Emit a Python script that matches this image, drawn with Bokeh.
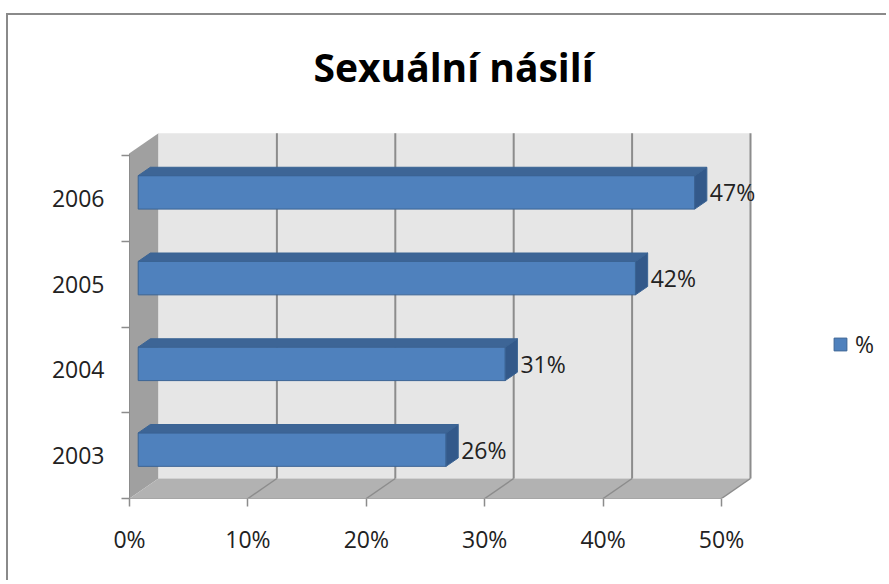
from bokeh.plotting import figure
from bokeh.models import (Range1d, FixedTicker, LinearAxis, Label, Legend,
                          LegendItem, ColumnDataSource)
from bokeh.embed import file_html
from bokeh.resources import INLINE
from bokeh.core.properties import value

# ---------------- data ----------------
title_text = "Sexuální násilí"
years = ["2003", "2004", "2005", "2006"]
percent = [26, 31, 42, 47]
value_labels = ["26%", "31%", "42%", "47%"]
x_ticks = [0, 10, 20, 30, 40, 50]
x_tick_labels = ["0%", "10%", "20%", "30%", "40%", "50%"]
series_name = "%"

# ---------------- layout constants ----------------
W, H = 880, 567
PX_X = 11.84     # px per percent
PX_Y = 85.75     # px per category
ML, MB = 121, 84
FONT = "Open Sans"

x_start, x_end = 0.0, (W - ML) / PX_X
y_start = 0.5
y_end = y_start + (H - MB) / PX_Y

DX = 29.0 / PX_X        # depth offset in data units
DY = 20.0 / PX_Y
F0, F1 = 0.30, 0.72     # bar depth (fraction)
HALF = 0.195            # half bar height (category units)
X_MAX = x_ticks[-1]
Y_TOP = y_start + len(years) + 0.025

p = figure(width=W, height=H, x_range=Range1d(x_start, x_end),
           y_range=Range1d(y_start, y_end), output_backend="svg",
           toolbar_location=None, x_axis_type=None, y_axis_type=None,
           min_border_left=ML, min_border_bottom=MB, min_border_top=0,
           min_border_right=0, title=None)
p.outline_line_color = None
p.background_fill_color = "white"
p.border_fill_color = "white"
p.styles = {"border-left": "2px solid #8a8a8a", "border-top": "2px solid #8a8a8a",
            "margin-top": "13px", "margin-left": "6px"}

# ---------------- walls ----------------
wall_xs = [
    [0, DX, DX, 0],                                   # left wall
    [DX, X_MAX + DX, X_MAX + DX, DX],                 # back wall
    [0, X_MAX, X_MAX + DX, DX],                       # floor
]
wall_ys = [
    [y_start, y_start + DY, Y_TOP + DY, Y_TOP],
    [y_start + DY, y_start + DY, Y_TOP + DY, Y_TOP + DY],
    [y_start, y_start, y_start + DY, y_start + DY],
]
p.patches(wall_xs, wall_ys, fill_color=["#a0a0a0", "#e6e6e6", "#b2b2b2"],
          line_color=None)

# gridlines on back wall and floor
gx = [t + DX for t in x_ticks[1:]]
p.segment(x0=gx, y0=[y_start + DY] * len(gx), x1=gx, y1=[Y_TOP + DY] * len(gx),
          line_color="#8c8c8c", line_width=2)
p.segment(x0=x_ticks[1:], y0=[y_start] * len(gx), x1=gx, y1=[y_start + DY] * len(gx),
          line_color="#8c8c8c", line_width=1.5)

# ---------------- bars ----------------
centers = [y_start + 0.5 + i for i in range(len(years))]
front_xs, front_ys, top_xs, top_ys, side_xs, side_ys = [], [], [], [], [], []
for v, c in zip(percent, centers):
    a0, a1 = F0 * DX, F1 * DX
    b0, b1 = F0 * DY, F1 * DY
    front_xs.append([a0, v + a0, v + a0, a0])
    front_ys.append([c - HALF + b0, c - HALF + b0, c + HALF + b0, c + HALF + b0])
    top_xs.append([a0, v + a0, v + a1, a1])
    top_ys.append([c + HALF + b0, c + HALF + b0, c + HALF + b1, c + HALF + b1])
    side_xs.append([v + a0, v + a1, v + a1, v + a0])
    side_ys.append([c - HALF + b0, c - HALF + b1, c + HALF + b1, c + HALF + b0])

front = p.patches(front_xs, front_ys, fill_color="#4f81bd", line_color="#3b6494",
                  line_width=1)
p.patches(top_xs, top_ys, fill_color="#3d6596", line_color="#3b6494", line_width=1)
p.patches(side_xs, side_ys, fill_color="#33598a", line_color="#3b6494", line_width=1)

# data labels
lab_src = ColumnDataSource(dict(
    x=[v + F1 * DX + 3.0 / PX_X for v in percent],
    y=[c + F0 * DY + 0.0 / PX_Y for c in centers],
    t=value_labels))
p.text(x="x", y="y", text="t", source=lab_src, text_font=value(FONT),
       text_font_size="23px", text_color="#222222", text_align="left",
       text_baseline="middle")

# ---------------- axes ----------------
xaxis = LinearAxis(ticker=FixedTicker(ticks=x_ticks), bounds=(0, X_MAX),
                   major_label_overrides=dict(zip(x_ticks, x_tick_labels)))
xaxis.axis_line_color = "#a6a6a6"
xaxis.major_tick_out = 8
xaxis.major_tick_in = 0
xaxis.major_tick_line_color = "#8c8c8c"
xaxis.major_tick_line_width = 1.5
xaxis.minor_tick_line_color = None
xaxis.major_label_standoff = 16
xaxis.major_label_text_font = FONT
xaxis.major_label_text_font_size = "23px"
xaxis.major_label_text_color = "#222222"
p.add_layout(xaxis, "below")

ycent = [i + 1 for i in range(len(years))]
ybounds = [y_start + i for i in range(len(years) + 1)]
yaxis = LinearAxis(ticker=FixedTicker(ticks=ycent, minor_ticks=ybounds),
                   bounds=(y_start, Y_TOP),
                   major_label_overrides=dict(zip(ycent, years)))
yaxis.axis_line_color = "#8c8c8c"
yaxis.major_tick_out = 0
yaxis.major_tick_in = 0
yaxis.minor_tick_out = 8
yaxis.minor_tick_in = 0
yaxis.minor_tick_line_color = "#8c8c8c"
yaxis.minor_tick_line_width = 1.5
yaxis.major_label_standoff = 17
yaxis.major_label_text_font = FONT
yaxis.major_label_text_font_size = "23px"
yaxis.major_label_text_color = "#222222"
p.add_layout(yaxis, "left")

# ---------------- title ----------------
p.add_layout(Label(x=(453 - 129) / PX_X, y=y_start + (498 - 66) / PX_Y,
                   text=title_text, text_align="center", text_baseline="alphabetic",
                   text_font=FONT, text_font_style="bold", text_font_size="39px",
                   text_color="#000000"))

# ---------------- legend ----------------
legend = Legend(items=[LegendItem(label=series_name, renderers=[front])],
                location=(703, 138), padding=0, margin=0, spacing=0,
                glyph_width=16, glyph_height=16, label_standoff=7,
                border_line_color=None, background_fill_alpha=0,
                label_text_font=FONT, label_text_font_size="23px",
                label_text_color="#222222")
p.add_layout(legend)

open("out.html", "w").write(file_html(p, INLINE))
